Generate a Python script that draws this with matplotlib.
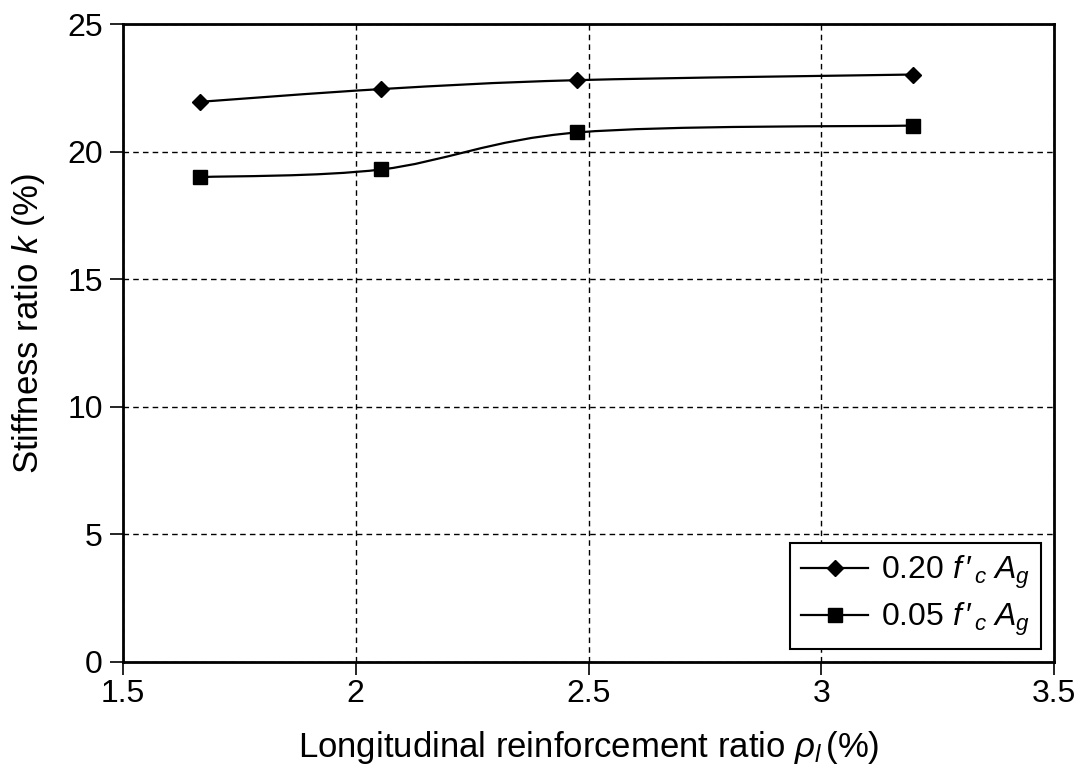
import matplotlib
matplotlib.use("Agg")
import matplotlib.pyplot as plt
from matplotlib.path import Path
from matplotlib.patches import PathPatch

plt.rcParams['font.family'] = ['Liberation Sans', 'DejaVu Sans']
plt.rcParams['mathtext.fontset'] = 'custom'
plt.rcParams['mathtext.rm'] = 'Liberation Sans'
plt.rcParams['mathtext.it'] = 'Liberation Sans:italic'

# data
rho = [1.665, 2.055, 2.476, 3.197]
k_020 = [21.95, 22.45, 22.8, 23.02]
k_005 = [19.0, 19.3, 20.75, 21.02]
labels = [r"0.20 $f\,\prime_{\,c}\;A_g$", r"0.05 $f\,\prime_{\,c}\;A_g$"]


def smooth_path(xs, ys, t=0.5):
    # excel-style smoothed line: cubic bezier through the points
    verts = [(xs[0], ys[0])]
    codes = [Path.MOVETO]
    n = len(xs)
    for i in range(n - 1):
        x0, y0 = (xs[i - 1], ys[i - 1]) if i > 0 else (xs[i], ys[i])
        x1, y1 = xs[i], ys[i]
        x2, y2 = xs[i + 1], ys[i + 1]
        x3, y3 = (xs[i + 2], ys[i + 2]) if i + 2 < n else (x2, y2)
        c1 = (x1 + (x2 - x0) * t / 3, y1 + (y2 - y0) * t / 3)
        c2 = (x2 - (x3 - x1) * t / 3, y2 - (y3 - y1) * t / 3)
        verts += [c1, c2, (x2, y2)]
        codes += [Path.CURVE4] * 3
    return Path(verts, codes)


fig = plt.figure(figsize=(10.86, 7.82), dpi=100)
ax = fig.add_axes([0.1133, 0.1535, 0.8572, 0.8158])

for ys, mk, ms, lab in [(k_020, 'D', 8, labels[0]), (k_005, 's', 10, labels[1])]:
    ax.add_patch(PathPatch(smooth_path(rho, ys), facecolor='none',
                           edgecolor='black', lw=1.6, zorder=3))
    ax.plot(rho, ys, linestyle='none', marker=mk, ms=ms, color='black', zorder=4)
    # legend proxy
    ax.plot([], [], color='black', lw=1.6, marker=mk, ms=ms, label=lab)

ax.set_xlim(1.5, 3.5)
ax.set_ylim(0, 25)
ax.set_xticks([1.5, 2, 2.5, 3, 3.5])
ax.set_xticklabels(['1.5', '2', '2.5', '3', '3.5'])
ax.set_yticks([0, 5, 10, 15, 20, 25])

ax.grid(True, color='black', linestyle=(0, (4, 3)), linewidth=1.0)
ax.set_axisbelow(True)

for s in ax.spines.values():
    s.set_linewidth(2.0)
ax.tick_params(direction='out', length=9.5, width=1.2, labelsize=23)
ax.tick_params(axis='y', pad=5)
ax.tick_params(axis='x', pad=3)

ax.set_ylabel(r"Stiffness ratio $k$ (%)", fontsize=25)
ax.yaxis.set_label_coords(-0.082, 0.53)
ax.set_xlabel(r"Longitudinal reinforcement ratio $\rho_l\,$(%)", fontsize=25,
              labelpad=14)

leg = ax.legend(loc='lower right', fontsize=23, frameon=True, fancybox=False,
                edgecolor='black', framealpha=1, handlelength=2.1,
                borderaxespad=0.4, borderpad=0.35, labelspacing=0.3,
                handletextpad=0.4)
leg.get_frame().set_linewidth(1.5)

fig.savefig("out.png", dpi=100)
